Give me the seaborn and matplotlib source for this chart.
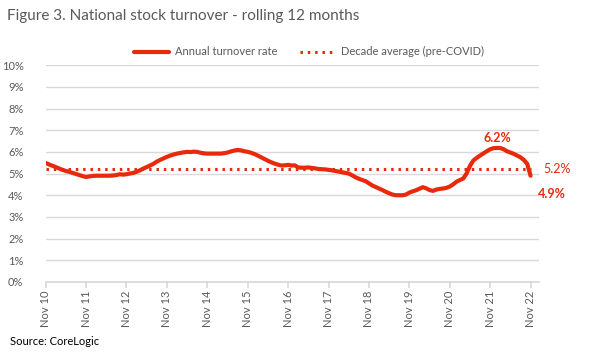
import numpy as np
import pandas as pd
import matplotlib
matplotlib.use("Agg")
import matplotlib.pyplot as plt
import seaborn as sns

# Monthly annual turnover rate (%), Nov 2010 .. Nov 2022
turnover = [
    5.49, 5.42, 5.36, 5.30, 5.23, 5.17, 5.12, 5.08, 5.03, 4.98, 4.93, 4.88,
    4.84, 4.87, 4.89, 4.90, 4.90, 4.90, 4.90, 4.90, 4.91, 4.93, 4.97, 4.95,
    4.97, 5.00, 5.03, 5.08, 5.15, 5.23, 5.30, 5.37, 5.45, 5.55, 5.63, 5.70,
    5.77, 5.83, 5.88, 5.92, 5.95, 5.98, 6.00, 5.99, 6.01, 6.00, 5.96, 5.93,
    5.92, 5.92, 5.92, 5.92, 5.92, 5.94, 5.97, 6.02, 6.06, 6.09, 6.07, 6.03,
    6.00, 5.96, 5.90, 5.83, 5.75, 5.67, 5.59, 5.52, 5.46, 5.41, 5.37, 5.38,
    5.40, 5.37, 5.38, 5.28, 5.27, 5.27, 5.28, 5.26, 5.24, 5.21, 5.20, 5.19,
    5.17, 5.15, 5.12, 5.09, 5.06, 5.03, 5.00, 4.92, 4.83, 4.76, 4.70, 4.65,
    4.55, 4.45, 4.38, 4.31, 4.24, 4.16, 4.09, 4.03, 4.00, 4.00, 4.00, 4.03,
    4.12, 4.18, 4.23, 4.30, 4.37, 4.32, 4.24, 4.20, 4.26, 4.29, 4.31, 4.34,
    4.40, 4.50, 4.62, 4.70, 4.77, 5.00, 5.35, 5.60, 5.72, 5.83, 5.93, 6.03,
    6.12, 6.17, 6.18, 6.18, 6.12, 6.03, 5.97, 5.91, 5.83, 5.75, 5.63, 5.45,
    4.90,
]
decade_avg = 5.2
tick_labels = ["Nov 10", "Nov 11", "Nov 12", "Nov 13", "Nov 14", "Nov 15", "Nov 16",
               "Nov 17", "Nov 18", "Nov 19", "Nov 20", "Nov 21", "Nov 22"]
peak_label = "6.2%"
avg_label = "5.2%"
last_label = "4.9%"

RED = "#E8290B"
GREY = "#595959"

df = pd.DataFrame({"month": np.arange(len(turnover)), "rate": turnover})
df["avg"] = decade_avg

sns.set_theme(style="white")
plt.rcParams["font.family"] = ["Lato", "DejaVu Sans"]

fig = plt.figure(figsize=(6.09, 3.56), dpi=100)
ax = fig.add_axes([0.075, 0.208, 0.81, 0.609])

sns.lineplot(data=df, x="month", y="avg", ax=ax, color=RED, lw=2.2,
             linestyle=(0, (0.8, 1.6)), label="Decade average (pre-COVID)")
sns.lineplot(data=df, x="month", y="rate", ax=ax, color=RED, lw=3,
             label="Annual turnover rate")

ax.set_xlim(0, 146.5)
ax.set_ylim(0, 10)
ax.set_yticks(range(0, 11))
ax.set_yticklabels([f"{v}%" for v in range(0, 11)], color=GREY, fontsize=8)
ax.set_xticks(range(0, len(turnover), 12))
ax.set_xticklabels(tick_labels, rotation=90, color=GREY, fontsize=8)
ax.set_xlabel("")
ax.set_ylabel("")
ax.grid(axis="y", color="#d9d9d9", lw=1)
ax.set_axisbelow(True)
for s in ["top", "right", "left"]:
    ax.spines[s].set_visible(False)
ax.spines["bottom"].set_color("#d9d9d9")
ax.tick_params(axis="x", bottom=True, length=4, color="#d9d9d9", pad=2)
ax.tick_params(axis="y", left=False, pad=10)

# annotations
peak_i = int(np.argmax(turnover))
ax.annotate(peak_label, (peak_i, turnover[peak_i]), xytext=(0, 7.5), textcoords="offset points",
            ha="center", va="center", color=RED, fontsize=9, fontweight="bold")
ax.annotate(avg_label, (len(turnover) - 1, decade_avg), xytext=(9, 0), textcoords="offset points",
            ha="left", va="center", color=RED, fontsize=9)
ax.annotate(last_label, (len(turnover) - 1, turnover[-1]), xytext=(5, -13), textcoords="offset points",
            ha="left", va="center", color=RED, fontsize=9, fontweight="bold")

handles, labels = ax.get_legend_handles_labels()
ax.legend(handles[::-1], labels[::-1], loc="center", bbox_to_anchor=(0.507, 0.854),
          bbox_transform=fig.transFigure, ncol=2, frameon=False, fontsize=8,
          handlelength=3.2, columnspacing=2.0, handletextpad=0.5, labelcolor=GREY)

fig.text(0.012, 0.955, "Figure 3. National stock turnover - rolling 12 months",
         fontsize=11, color=GREY, va="center", ha="left")
fig.text(0.016, 0.042, "Source: CoreLogic", fontsize=8, color="black", va="center", ha="left")

fig.savefig("out.png", dpi=100)
